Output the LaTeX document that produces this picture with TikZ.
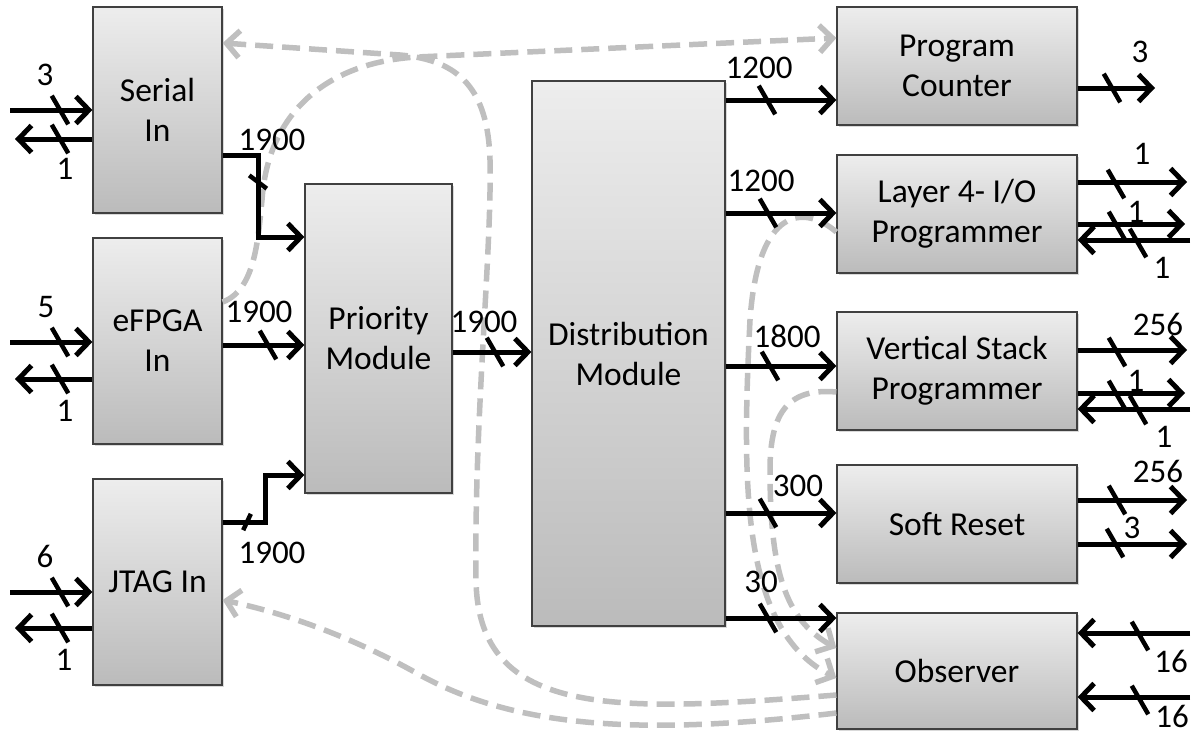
\documentclass[tikz,border=0pt]{standalone}
\usepackage{fontspec}
\setmainfont{Carlito}
\usetikzlibrary{arrows.meta,calc,shadows}
\definecolor{boxtop}{HTML}{EDEDED}
\definecolor{boxbot}{HTML}{BBBBBB}
\definecolor{dashgray}{HTML}{BFBFBF}
\begin{document}
\begin{tikzpicture}[x=1pt,y=-1pt,
  box/.style={draw=black!75, line width=1.3pt, top color=boxtop, bottom color=boxbot,
    align=center, font=\fontsize{33.5}{40}\selectfont, inner sep=0pt,
    drop shadow={shadow xshift=2pt,shadow yshift=-2pt,opacity=.3}},
  sig/.style={line width=5pt, -{Straight Barb[length=13pt,width=27pt]}},
  fb/.style={line width=5.5pt, dashgray, dash pattern=on 18pt off 9pt,
    -{Straight Barb[length=13pt,width=27pt]}},
  lbl/.style={font=\fontsize{33}{40}\selectfont, inner sep=0pt},
  tk/.style={fill=black, minimum width=33pt, minimum height=4.5pt, inner sep=0pt, rotate=-60},
]
\useasboundingbox (0,0) rectangle (1201,736);

% boxes
\node[box, minimum width=129pt, minimum height=206pt] (ser) at (157.5,110) {Serial\\In};
\node[box, minimum width=129pt, minimum height=206pt] (efp) at (157.5,341) {eFPGA\\In};
\node[box, minimum width=129pt, minimum height=206pt] (jtag) at (157.5,582) {JTAG In};
\node[box, minimum width=147pt, minimum height=309pt] (pri) at (378.5,338.5) {Priority\\Module};
\node[box, minimum width=193pt, minimum height=545pt] (dist) at (628.5,353.5) {Distribution\\Module};
\node[box, minimum width=240pt, minimum height=118pt] (pc) at (957,66) {Program\\Counter};
\node[box, minimum width=240pt, minimum height=118pt] (l4) at (957,214) {Layer 4- I/O\\Programmer};
\node[box, minimum width=240pt, minimum height=118pt] (vs) at (957,371) {Vertical Stack\\Programmer};
\node[box, minimum width=240pt, minimum height=118pt] (sr) at (957,524) {Soft Reset};
\node[box, minimum width=240pt, minimum height=116pt] (obs) at (957,671) {Observer};

% dashed feedback paths
\draw[fb] (efp.east |- 0,302) .. controls (255,290) and (258,240) .. (262,200)
   .. controls (268,110) and (330,62) .. (417,57) -- (pc.west |- 0,38);
\draw[fb] (obs.west |- 0,695) .. controls (620,712) and (478,720) .. (476,580)
   .. controls (474,420) and (492,250) .. (490,160)
   .. controls (488,90) and (460,60) .. (400,55) -- (ser.east |- 0,43);
\draw[fb] (obs.west |- 0,713) .. controls (650,735) and (520,730) .. (420,675)
   .. controls (340,630) and (270,610) .. (jtag.east |- 0,600);
\draw[fb] (l4.west |- 0,232) .. controls (805,205) and (758,205) .. (750,320)
   .. controls (742,480) and (740,630) .. (obs.west |- 0,678);
\draw[fb] (vs.west |- 0,392) .. controls (790,388) and (770,410) .. (770,470)
   .. controls (770,570) and (785,620) .. (obs.west |- 0,648);

% left side I/O
\coordinate (si) at (10,110);  \draw[sig] (si) -- (si -| ser.west);
\coordinate (so) at (15,139);  \draw[sig] (so -| ser.west) -- (so);
\coordinate (ei) at (10,342);  \draw[sig] (ei) -- (ei -| efp.west);
\coordinate (eo) at (15,379);  \draw[sig] (eo -| efp.west) -- (eo);
\coordinate (ji) at (10,592);  \draw[sig] (ji) -- (ji -| jtag.west);
\coordinate (jo) at (15,628);  \draw[sig] (jo -| jtag.west) -- (jo);
\node[tk] (t1) at (60,110) {};
\node[tk] (t2) at (60,139) {};
\node[tk] (t3) at (60,342) {};
\node[tk] (t4) at (60,379) {};
\node[tk] (t5) at (60,592) {};
\node[tk] (t6) at (60,628) {};
\node[lbl] (n1) at (45,75) {3};
\node[lbl] (n2) at (65,169) {1};
\node[lbl] (n3) at (46,307) {5};
\node[lbl] (n4) at (65,411) {1};
\node[lbl] (n5) at (45,556) {6};
\node[lbl] (n6) at (64,660) {1};

% inputs to priority
\draw[sig] (ser.east |- 0,155) -- (258,155) -- (258,237) -- (pri.west |- 0,237);
\draw[sig] (efp.east |- 0,345) -- (pri.west |- 0,345);
\draw[sig] (jtag.east |- 0,522) -- (265,522) -- (265,475) -- (pri.west |- 0,475);
\node[tk, minimum width=22pt, rotate=23] (t7) at (258,182) {};
\node[tk] (t8) at (268,345) {};
\node[tk, minimum width=18pt, rotate=-55] (t9) at (247,522) {};
\node[lbl] (n7) at (272,140) {1900};
\node[lbl] (n8) at (259,312) {1900};
\node[lbl] (n9) at (272,553) {1900};

% priority to distribution
\draw[sig] (pri.east |- 0,352) -- (dist.west |- 0,352);
\node[tk] (t10) at (495,352) {};
\node[lbl] (n10) at (484,322) {1900};

% distribution outputs
\draw[sig] (dist.east |- 0,100) -- (pc.west |- 0,100);
\draw[sig] (dist.east |- 0,213) -- (l4.west |- 0,213);
\draw[sig] (dist.east |- 0,366) -- (vs.west |- 0,366);
\draw[sig] (dist.east |- 0,513) -- (sr.west |- 0,513);
\draw[sig] (dist.east |- 0,618) -- (obs.west |- 0,618);
\node[tk] (t11) at (767,100) {};
\node[tk] (t12) at (768,213) {};
\node[tk] (t13) at (770,366) {};
\node[tk] (t14) at (768,513) {};
\node[tk] (t15) at (768,618) {};
\node[lbl] (n11) at (759,68) {1200};
\node[lbl] (n12) at (761,181) {1200};
\node[lbl] (n13) at (787,336) {1800};
\node[lbl] (n14) at (798,486) {300};
\node[lbl] (n15) at (761,582) {30};

% right side I/O
\coordinate (pco) at (1155,88);  \draw[sig] (pc.east |- pco) -- (pco);
\coordinate (l4a) at (1187,182); \draw[sig] (l4.east |- l4a) -- (l4a);
\coordinate (l4b) at (1185,224); \draw[sig] (l4.east |- l4b) -- (l4b);
\coordinate (l4c) at (1190,240); \draw[sig] (l4c) -- (l4c -| l4.east);
\coordinate (vsa) at (1187,350); \draw[sig] (vs.east |- vsa) -- (vsa);
\coordinate (vsb) at (1185,393); \draw[sig] (vs.east |- vsb) -- (vsb);
\coordinate (vsc) at (1190,409); \draw[sig] (vsc) -- (vsc -| vs.east);
\coordinate (sra) at (1187,500); \draw[sig] (sr.east |- sra) -- (sra);
\coordinate (srb) at (1187,544); \draw[sig] (sr.east |- srb) -- (srb);
\coordinate (oba) at (1190,633); \draw[sig] (oba) -- (oba -| obs.east);
\coordinate (obb) at (1190,697); \draw[sig] (obb) -- (obb -| obs.east);
\node[tk] (t16) at (1112,88) {};
\node[tk] (t17) at (1116,184) {};
\node[tk] (t18) at (1117,226) {};
\node[tk] (t19) at (1138,243) {};
\node[tk] (t20) at (1117,352) {};
\node[tk] (t21) at (1117,395) {};
\node[tk] (t22) at (1138,410) {};
\node[tk] (t23) at (1117,500) {};
\node[tk] (t24) at (1115,543) {};
\node[tk] (t25) at (1140,636) {};
\node[tk] (t26) at (1140,700) {};
\node[lbl] (n16) at (1140,52) {3};
\node[lbl] (n17) at (1142,154) {1};
\node[lbl] (n18) at (1136,212) {1};
\node[lbl] (n19) at (1162,268) {1};
\node[lbl] (n20) at (1158,324) {256};
\node[lbl] (n21) at (1136,381) {1};
\node[lbl] (n22) at (1164,437) {1};
\node[lbl] (n23) at (1158,471) {256};
\node[lbl] (n24) at (1132,528) {3};
\node[lbl] (n25) at (1171,661) {16};
\node[lbl] (n26) at (1172,716) {16};
\end{tikzpicture}
\end{document}
